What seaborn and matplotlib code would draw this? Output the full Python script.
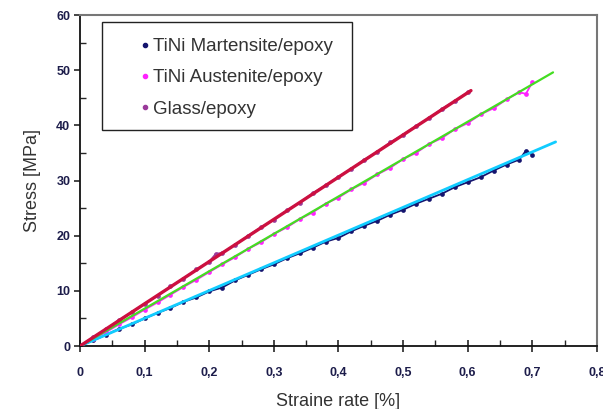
import numpy as np
import pandas as pd
import matplotlib
matplotlib.use('Agg')
import matplotlib.pyplot as plt
import seaborn as sns
from matplotlib.lines import Line2D
from matplotlib.patches import Rectangle
from matplotlib.ticker import MultipleLocator, FuncFormatter

mart_x = [0, 0.02, 0.04, 0.06, 0.08, 0.10, 0.12, 0.14, 0.16, 0.18, 0.20, 0.22, 0.24, 0.26,
          0.28, 0.30, 0.32, 0.34, 0.36, 0.38, 0.40, 0.42, 0.44, 0.46, 0.48, 0.50, 0.52, 0.54,
          0.56, 0.58, 0.60, 0.62, 0.64, 0.66, 0.68, 0.69, 0.70]
mart_y = [0, 1.0, 2.0, 3.1, 3.9, 5.0, 6.0, 6.9, 8.0, 8.8, 9.9, 10.6, 11.9, 12.9,
          13.9, 14.8, 15.9, 16.8, 17.8, 18.9, 19.6, 20.8, 21.8, 22.7, 23.8, 24.7, 25.8, 26.7,
          27.6, 28.8, 29.7, 30.6, 31.8, 32.9, 33.8, 35.4, 34.7]

aust_x = [0, 0.02, 0.04, 0.06, 0.08, 0.10, 0.12, 0.14, 0.16, 0.18, 0.20, 0.22, 0.24, 0.26,
          0.28, 0.30, 0.32, 0.34, 0.36, 0.38, 0.40, 0.42, 0.44, 0.46, 0.48, 0.50, 0.52, 0.54,
          0.56, 0.58, 0.60, 0.62, 0.64, 0.66, 0.68, 0.69, 0.70]
aust_y = [0, 1.2, 2.5, 3.9, 5.2, 6.6, 7.9, 9.3, 10.7, 12.0, 13.4, 14.8, 16.1, 17.6,
          18.8, 20.3, 21.5, 23.0, 24.2, 25.8, 26.9, 28.4, 29.6, 31.1, 32.3, 33.9, 35.0, 36.6,
          37.7, 39.3, 40.4, 42.0, 43.1, 44.7, 46.0, 45.7, 47.8]

glass_x = [0, 0.02, 0.04, 0.06, 0.08, 0.10, 0.12, 0.14, 0.16, 0.18, 0.20, 0.21, 0.22, 0.24,
           0.26, 0.28, 0.30, 0.32, 0.34, 0.36, 0.38, 0.40, 0.42, 0.44, 0.46, 0.48, 0.50, 0.52,
           0.54, 0.56, 0.58, 0.60]
glass_y = [0, 1.6, 3.0, 4.7, 6.1, 7.7, 9.1, 10.8, 12.2, 13.9, 15.3, 16.7, 16.9, 18.3,
           20.0, 21.5, 22.9, 24.6, 26.0, 27.7, 29.1, 30.7, 32.1, 33.8, 35.2, 36.9, 38.3, 39.9,
           41.3, 43.0, 44.4, 46.0]

# fitted lines (end points)
fit_mart_x = [0, 0.736]
fit_mart_y = [0, 37.0]
fit_aust_x = [0, 0.732]
fit_aust_y = [0, 49.6]
fit_glass_x = [0, 0.605]
fit_glass_y = [0, 46.3]

labels = ['TiNi Martensite/epoxy', 'TiNi Austenite/epoxy', 'Glass/epoxy']
dot_colors = ['#14146e', '#ff22ff', '#9a3a9a']

sns.set_style('white')
plt.rcParams['font.family'] = ['Liberation Sans', 'DejaVu Sans']

fig = plt.figure(figsize=(6.03, 4.09), dpi=100)
ax = fig.add_axes([0.1327, 0.154, 0.8573, 0.8093])

series = [(mart_x, mart_y, dot_colors[0]), (aust_x, aust_y, dot_colors[1]), (glass_x, glass_y, dot_colors[2])]
for xs, ys, c in series:
    df = pd.DataFrame({'x': xs, 'y': ys})
    sns.lineplot(data=df, x='x', y='y', ax=ax, color=c, lw=1.3, marker='o', markersize=3.4,
                 markeredgewidth=0, sort=False, zorder=2)

fits = [(fit_mart_x, fit_mart_y, '#11ccff', 2.0), (fit_aust_x, fit_aust_y, '#44dd22', 1.6),
        (fit_glass_x, fit_glass_y, '#cc1040', 2.4)]
for xs, ys, c, w in fits:
    sns.lineplot(x=xs, y=ys, ax=ax, color=c, lw=w, zorder=3)

ax.set_xlim(0, 0.8)
ax.set_ylim(0, 60)
ax.xaxis.set_major_locator(MultipleLocator(0.1))
ax.xaxis.set_minor_locator(MultipleLocator(0.05))
ax.yaxis.set_major_locator(MultipleLocator(10))
ax.yaxis.set_minor_locator(MultipleLocator(5))
ax.xaxis.set_major_formatter(FuncFormatter(lambda v, p: '0' if abs(v) < 1e-9 else ('%.1f' % v).replace('.', ',')))
ax.yaxis.set_major_formatter(FuncFormatter(lambda v, p: '%d' % v))

ax.tick_params(axis='x', which='major', direction='inout', length=8, width=1.2, pad=11,
               labelsize=9, labelcolor='#1c1c4a', bottom=True)
ax.tick_params(axis='x', which='minor', direction='in', length=4, width=1.0, bottom=True)
ax.tick_params(axis='y', which='major', direction='out', length=4, width=1.2, pad=3,
               labelsize=9, labelcolor='#1c1c4a', left=True)
ax.tick_params(axis='y', which='minor', direction='in', length=4, width=1.0, left=True)
for lab in ax.get_xticklabels() + ax.get_yticklabels():
    lab.set_fontweight('bold')

for s in ['left', 'bottom']:
    ax.spines[s].set_color('#111111')
    ax.spines[s].set_linewidth(1.3)
for s in ['top', 'right']:
    ax.spines[s].set_color('#777777')
    ax.spines[s].set_linewidth(1.5)

ax.set_xlabel('Straine rate [%]', fontsize=13, color='#333333', labelpad=10)
ax.set_ylabel('Stress [MPa]', fontsize=13, color='#333333', labelpad=11)

# legend box drawn as a patch, entries without frame
ax.add_patch(Rectangle((0.0426, 0.653), 0.4836, 0.326, transform=ax.transAxes, fill=True,
                       facecolor='white', edgecolor='#222222', lw=1.0, zorder=5))
handles = [Line2D([], [], ls='', marker='o', markersize=3, color=c) for c in dot_colors]
leg = ax.legend(handles, labels, loc='upper left', bbox_to_anchor=(0.115, 0.93), fontsize=13.5,
                frameon=False, labelspacing=0.75, handlelength=0.6, handletextpad=0.12,
                borderpad=0, borderaxespad=0)
leg.set_zorder(6)
for t in leg.get_texts():
    t.set_color('#333333')

fig.savefig('out.png', dpi=100)
